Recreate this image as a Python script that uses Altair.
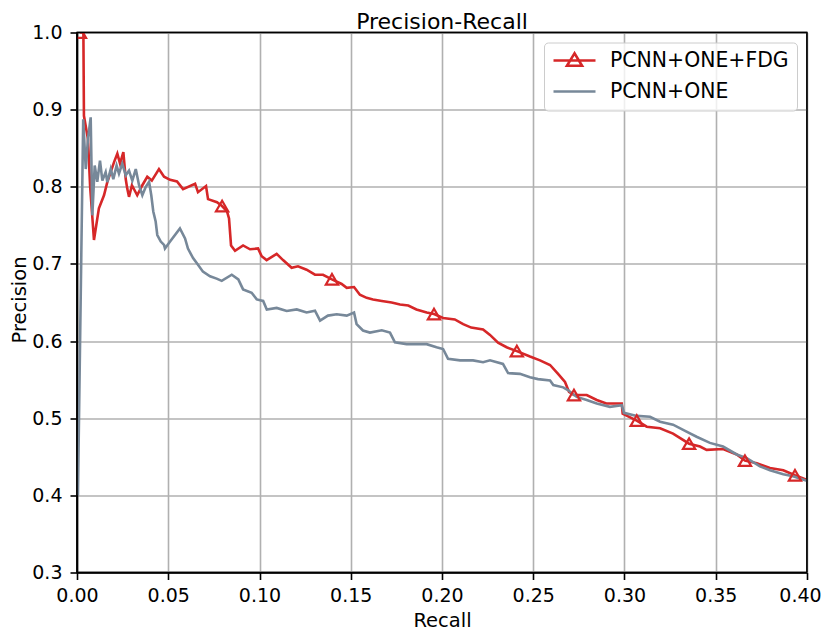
import altair as alt
import pandas as pd

series_names = ["PCNN+ONE+FDG", "PCNN+ONE"]
series_colors = ["#d62728", "#778899"]

fdg_recall = [0.0016, 0.0035, 0.0038, 0.0060, 0.0072, 0.0093, 0.0120, 0.0148, 0.0166, 0.0203,
              0.0221, 0.0236, 0.0254, 0.0267, 0.0275, 0.0285, 0.0301, 0.0330, 0.0358, 0.0385,
              0.0410, 0.0449, 0.0477, 0.0510, 0.0548, 0.0581, 0.0647, 0.0663, 0.0707, 0.0718,
              0.0767, 0.0795, 0.0822, 0.0833, 0.0844, 0.0866, 0.0910, 0.0948, 0.0992, 0.1012,
              0.1039, 0.1094, 0.1129, 0.1176, 0.1211, 0.1258, 0.1304, 0.1348, 0.1397, 0.1450,
              0.1478, 0.1518, 0.1550, 0.1587, 0.1622, 0.1670, 0.1724, 0.1770, 0.1815, 0.1860,
              0.1916, 0.1956, 0.2006, 0.2070, 0.2116, 0.2160, 0.2225, 0.2263, 0.2307, 0.2354,
              0.2410, 0.2482, 0.2537, 0.2592, 0.2636, 0.2674, 0.2696, 0.2723, 0.2793, 0.2848,
              0.2900, 0.2985, 0.2990, 0.3067, 0.3122, 0.3195, 0.3266, 0.3354, 0.3414, 0.3450,
              0.3540, 0.3615, 0.3660, 0.3725, 0.3797, 0.3870, 0.3934, 0.3990, 0.4000]
fdg_precision = [1.000, 1.000, 0.892, 0.862, 0.800, 0.731, 0.772, 0.789, 0.806, 0.832,
                 0.843, 0.830, 0.845, 0.810, 0.798, 0.787, 0.802, 0.789, 0.802, 0.813,
                 0.808, 0.823, 0.813, 0.809, 0.807, 0.797, 0.804, 0.793, 0.801, 0.784,
                 0.780, 0.775, 0.768, 0.759, 0.724, 0.717, 0.724, 0.719, 0.720, 0.710,
                 0.705, 0.713, 0.705, 0.695, 0.697, 0.6925, 0.686, 0.686, 0.680, 0.674,
                 0.669, 0.670, 0.660, 0.656, 0.654, 0.652, 0.650, 0.6475, 0.646, 0.641,
                 0.637, 0.635, 0.630, 0.628, 0.622, 0.6175, 0.615, 0.608, 0.598, 0.592,
                 0.587, 0.580, 0.575, 0.569, 0.5575, 0.547, 0.534, 0.530, 0.530, 0.5237,
                 0.519, 0.519, 0.506, 0.497, 0.489, 0.487, 0.480, 0.467, 0.4633, 0.459,
                 0.460, 0.453, 0.445, 0.4415, 0.4354, 0.4325, 0.426, 0.421, 0.420]
fdg_marker_idx = [0, 31, 48, 61, 70, 77, 83, 87, 92, 96]

one_recall = [0.0005, 0.0034, 0.0048, 0.0060, 0.0075, 0.0084, 0.0097, 0.0111, 0.0126, 0.0139,
              0.0157, 0.0166, 0.0185, 0.0199, 0.0217, 0.0230, 0.0248, 0.0267, 0.0285, 0.0303,
              0.0322, 0.0340, 0.0358, 0.0377, 0.0395, 0.0407, 0.0418, 0.0431, 0.0440, 0.0459,
              0.0477, 0.0482, 0.0510, 0.0564, 0.0592, 0.0608, 0.0636, 0.0663, 0.0690, 0.0729,
              0.0765, 0.0793, 0.0848, 0.0884, 0.0910, 0.0957, 0.0985, 0.1020, 0.1040, 0.1094,
              0.1149, 0.1204, 0.1258, 0.1304, 0.1332, 0.1375, 0.1423, 0.1478, 0.1518, 0.1532,
              0.1567, 0.1605, 0.1670, 0.1715, 0.1742, 0.1806, 0.1860, 0.1916, 0.1970, 0.2006,
              0.2033, 0.2099, 0.2170, 0.2225, 0.2263, 0.2334, 0.2362, 0.2427, 0.2482, 0.2526,
              0.2592, 0.2610, 0.2664, 0.2690, 0.2738, 0.2793, 0.2848, 0.2920, 0.2985, 0.2997,
              0.3067, 0.3140, 0.3195, 0.3266, 0.3340, 0.3395, 0.3468, 0.3540, 0.3615, 0.3670,
              0.3742, 0.3797, 0.3870, 0.3923, 0.3990, 0.4000]
one_precision = [0.400, 0.8875, 0.823, 0.862, 0.890, 0.763, 0.8275, 0.8065, 0.834, 0.808,
                 0.819, 0.806, 0.823, 0.810, 0.8275, 0.817, 0.830, 0.815, 0.821, 0.808,
                 0.823, 0.802, 0.789, 0.800, 0.8065, 0.789, 0.768, 0.755, 0.7375, 0.729,
                 0.7246, 0.720, 0.729, 0.746, 0.733, 0.720, 0.7075, 0.699, 0.690, 0.684,
                 0.681, 0.678, 0.686, 0.680, 0.667, 0.6626, 0.654, 0.652, 0.641, 0.643,
                 0.639, 0.641, 0.637, 0.6394, 0.6266, 0.633, 0.6347, 0.633, 0.637, 0.622,
                 0.6137, 0.611, 0.614, 0.611, 0.5983, 0.596, 0.596, 0.596, 0.592, 0.5897,
                 0.577, 0.575, 0.575, 0.5726, 0.575, 0.5704, 0.5585, 0.5575, 0.553, 0.5507,
                 0.549, 0.543, 0.540, 0.5365, 0.5276, 0.5237, 0.519, 0.5147, 0.517, 0.507,
                 0.503, 0.5019, 0.4955, 0.4916, 0.4826, 0.476, 0.468, 0.4633, 0.453, 0.4483,
                 0.4376, 0.4325, 0.4273, 0.4247, 0.4196, 0.419]

x_ticks = [0.00, 0.05, 0.10, 0.15, 0.20, 0.25, 0.30, 0.35, 0.40]
y_ticks = [0.3, 0.4, 0.5, 0.6, 0.7, 0.8, 0.9, 1.0]

rows = []
for i, (r, p) in enumerate(zip(fdg_recall, fdg_precision)):
    rows.append({"series": series_names[0], "recall": r, "precision": p, "idx": i,
                 "marker": i in fdg_marker_idx})
for i, (r, p) in enumerate(zip(one_recall, one_precision)):
    rows.append({"series": series_names[1], "recall": r, "precision": p, "idx": i,
                 "marker": False})
df = pd.DataFrame(rows)

FONT = "DejaVu Sans"
# legend glyphs: line with an open triangle on it, and a plain line
LEGEND_SHAPES = ["M-1,0H1M0,-0.34L-0.36,0.25H0.36Z", "M-1,0H1"]

x_scale = alt.Scale(domain=[x_ticks[0], x_ticks[-1]], nice=False, zero=False)
y_scale = alt.Scale(domain=[y_ticks[0], y_ticks[-1]], nice=False, zero=False)
color_scale = alt.Scale(domain=series_names, range=series_colors)
shape_scale = alt.Scale(domain=series_names, range=LEGEND_SHAPES)

x_axis = alt.Axis(values=x_ticks, format=".2f", title="Recall", labelFlush=False,
                  labelOverlap=False, tickSize=7, labelPadding=7,
                  labelOffset={"condition": {"test": "datum.value >= 0.399", "value": -7},
                               "value": 0},
                  titleY=53.5, titleBaseline="alphabetic")
y_axis = alt.Axis(values=y_ticks, format=".1f", title="Precision", labelFlush=False,
                  labelOverlap=False, tickSize=7, labelPadding=8,
                  titleX=-52, titleY=267, titleBaseline="alphabetic")

legend = alt.Legend(
    title=None, orient="top-right", offset=10, padding=8,
    symbolSize=1764, symbolStrokeWidth=2.6, symbolFillColor="transparent",
    clipHeight=20, rowPadding=10, labelOffset=13, labelLimit=400,
    labelFont=FONT, labelFontSize=20.4, labelColor="black",
    fillColor="rgba(255,255,255,0.8)", strokeColor="#cccccc", cornerRadius=4,
)

base = alt.Chart(df)

lines = base.mark_line(strokeWidth=2.6, clip=True).encode(
    x=alt.X("recall:Q", scale=x_scale, axis=x_axis),
    y=alt.Y("precision:Q", scale=y_scale, axis=y_axis),
    color=alt.Color("series:N", scale=color_scale, legend=legend),
    order=alt.Order("idx:Q"),
)

markers = base.transform_filter("datum.marker").mark_point(
    shape="triangle-up", filled=False, size=150, strokeWidth=2.2,
    color=series_colors[0], clip=True, opacity=1,
).encode(
    x=alt.X("recall:Q"),
    y=alt.Y("precision:Q"),
)

# carries the legend glyphs only (no rows pass the filter)
legend_layer = base.transform_filter("false").mark_point(
    filled=False, strokeWidth=2.6, opacity=1,
).encode(
    x=alt.X("recall:Q"),
    y=alt.Y("precision:Q"),
    color=alt.Color("series:N", scale=color_scale, legend=legend),
    shape=alt.Shape("series:N", scale=shape_scale, legend=legend),
)

frame_h = alt.Chart(pd.DataFrame({"precision": [y_ticks[0], y_ticks[-1]]})).mark_rule(
    color="black", strokeWidth=1.6).encode(y=alt.Y("precision:Q"))
frame_v = alt.Chart(pd.DataFrame({"recall": [x_ticks[0], x_ticks[-1]]})).mark_rule(
    color="black", strokeWidth=1.6).encode(x=alt.X("recall:Q"))

chart = alt.layer(lines, markers, legend_layer, frame_h, frame_v).properties(
    width=730, height=540,
    title=alt.TitleParams("Precision-Recall", font=FONT, fontSize=22, fontWeight="normal",
                          color="black", offset=-10, anchor="middle", frame="group"),
    autosize=alt.AutoSizeParams(type="none"),
    padding={"left": 69, "top": 24.5, "right": 15, "bottom": 57.5},
).configure(
    font=FONT,
).configure_view(
    stroke="black", strokeWidth=1.6,
).configure_axis(
    labelFont=FONT, labelFontSize=19, labelColor="black",
    titleFont=FONT, titleFontSize=19.5, titleFontWeight="normal", titleColor="black",
    tickColor="black", tickWidth=1.6, domainColor="black", domainWidth=1.6,
    gridColor="#b0b0b0", gridWidth=1.6, gridOpacity=1,
)

chart.save("out.html", embed_options={"renderer": "svg", "actions": False})
